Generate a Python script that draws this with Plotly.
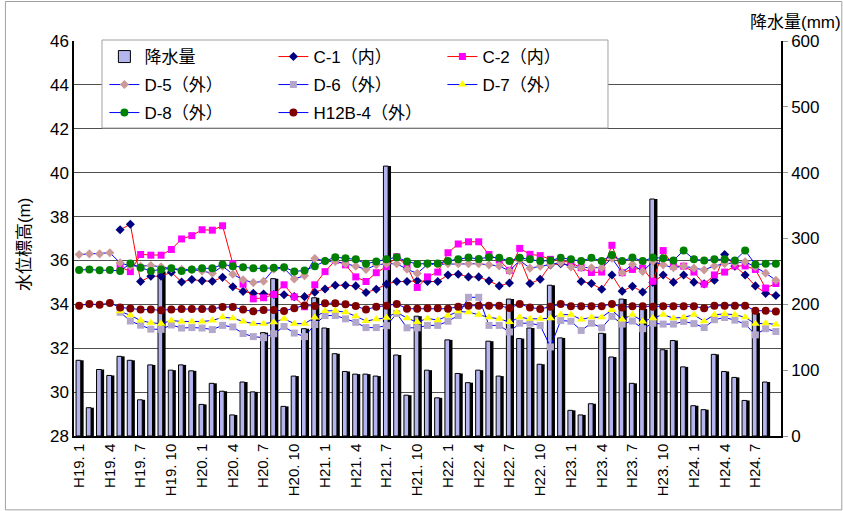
import plotly.graph_objects as go

# months H19.1 .. H24.9
months = ["H%d. %d" % (y, m) for y in range(19, 25) for m in range(1, 13)][:69]
tick_months = months[::3]

# monthly rainfall (mm)
rain = [115, 43, 101, 92, 121, 115, 55, 108, 250, 100, 108, 99,
        48, 80, 68, 32, 82, 67, 157, 239, 45, 91, 163, 210,
        164, 125, 98, 94, 94, 91, 410, 123, 62, 182, 100, 58,
        146, 95, 81, 100, 144, 91, 208, 148, 164, 109, 229, 149,
        39, 32, 49, 156, 120, 208, 80, 193, 360, 131, 145, 105,
        46, 40, 124, 98, 89, 54, 187, 82, None]

# groundwater level (m)
c1 = [None, None, None, None, 37.40, 37.65, 35.04, 35.28, 35.28, 35.46, 35.02, 35.13,
      35.07, 35.05, 35.23, 34.80, 34.59, 34.50, 34.47, 34.45, 34.44, 34.35, 34.35, 34.55,
      34.70, 34.87, 34.87, 34.84, 34.54, 34.69, 34.92, 35.04, 35.04, 35.07, 35.04, 35.04,
      35.34, 35.37, 35.25, 35.25, 35.07, 34.84, 34.97, 36.10, 34.95, 35.14, 35.80, 35.85,
      35.80, 35.04, 34.95, 34.69, 35.34, 34.60, 34.82, 34.56, 35.00, 35.34, 35.01, 35.34,
      35.01, 34.93, 35.10, 36.27, 35.74, 35.34, 34.84, 34.50, 34.40]
c2 = [None, None, None, None, 35.71, 35.49, 36.27, 36.24, 36.24, 36.50, 36.98, 37.13,
      37.40, 37.38, 37.58, 35.85, 34.92, 34.25, 34.30, 34.45, 34.89, 34.34, 33.89, 34.89,
      35.49, 36.00, 35.80, 35.25, 35.04, 35.44, 35.72, 36.17, 35.74, 34.77, 35.25, 35.47,
      36.35, 36.75, 36.85, 36.85, 36.27, 36.02, 35.55, 36.55, 36.28, 36.22, 36.05, 36.00,
      35.89, 35.67, 35.45, 35.47, 36.69, 35.44, 35.59, 35.65, 35.05, 36.45, 35.74, 35.74,
      35.47, 34.92, 35.34, 35.47, 35.75, 35.75, 35.59, 34.74, 34.95]
d5 = [36.27, 36.30, 36.30, 36.35, 35.89, 35.75, 35.74, 35.77, 35.71, 35.62, 35.60, 35.58,
      35.52, 35.42, 35.74, 35.37, 35.12, 34.99, 35.05, 35.60, 35.65, 35.16, 35.30, 36.09,
      35.97, 35.95, 35.85, 35.74, 35.59, 35.80, 35.85, 35.85, 35.60, 35.41, 35.82, 35.82,
      35.85, 35.85, 35.85, 35.85, 35.80, 35.75, 35.52, 36.00, 35.65, 35.74, 35.82, 35.90,
      35.70, 35.67, 35.67, 35.67, 36.10, 35.44, 35.82, 35.50, 35.95, 35.80, 35.67, 35.74,
      35.65, 35.57, 35.75, 35.85, 35.89, 35.94, 35.70, 35.42, 35.10]
d6 = [None, None, None, None, 33.64, 33.24, 33.05, 32.87, 32.86, 33.06, 32.92, 32.94,
      32.92, 32.85, 33.04, 32.97, 32.67, 32.53, 32.48, 32.66, 32.99, 32.69, 32.53, 33.08,
      33.49, 33.49, 33.34, 33.18, 32.94, 32.94, 33.03, 33.58, 32.93, 32.93, 33.04, 33.04,
      33.23, 33.49, 34.32, 34.32, 33.04, 33.04, 32.74, 33.14, 33.14, 33.04, 32.06, 33.26,
      33.23, 32.81, 33.14, 32.93, 33.45, 33.10, 33.24, 32.89, 33.14, 33.10, 33.10, 33.22,
      33.12, 32.94, 33.30, 33.40, 33.28, 33.10, 32.61, 32.89, 32.76]
d7 = [None, None, None, None, 33.68, 33.50, 33.26, 33.16, 33.12, 33.26, 33.22, 33.22,
      33.22, 33.26, 33.41, 33.37, 33.22, 33.12, 33.12, 33.18, 33.34, 33.12, 33.12, 33.40,
      33.70, 33.71, 33.64, 33.46, 33.24, 33.32, 33.39, 33.64, 33.37, 33.19, 33.36, 33.28,
      33.49, 33.68, 33.64, 33.53, 33.41, 33.34, 33.19, 33.41, 33.34, 33.34, 33.37, 33.53,
      33.53, 33.31, 33.41, 33.41, 33.74, 33.31, 33.53, 33.22, 33.37, 33.53, 33.37, 33.41,
      33.52, 33.23, 33.53, 33.56, 33.53, 33.41, 33.11, 33.14, 33.08]
d8 = [35.56, 35.59, 35.55, 35.56, 35.52, 35.86, 35.67, 35.52, 35.59, 35.64, 35.52, 35.59,
      35.64, 35.64, 35.82, 35.74, 35.69, 35.64, 35.64, 35.67, 35.69, 35.50, 35.54, 35.74,
      35.97, 36.15, 36.10, 36.05, 35.85, 35.95, 36.05, 36.15, 35.95, 35.84, 35.86, 35.86,
      35.98, 36.05, 36.13, 36.07, 36.15, 36.12, 35.97, 36.12, 36.05, 35.97, 36.00, 36.12,
      36.05, 35.97, 36.12, 35.97, 36.25, 35.97, 36.13, 35.97, 36.13, 36.10, 36.00, 36.45,
      36.05, 36.00, 36.05, 36.05, 36.00, 36.45, 35.82, 35.85, 35.85]
h12b4 = [33.94, 34.02, 33.98, 34.06, 33.86, 33.81, 33.76, 33.76, 33.73, 33.77, 33.79, 33.79,
         33.79, 33.79, 33.88, 33.88, 33.76, 33.68, 33.74, 33.74, 33.70, 33.82, 33.95, 33.92,
         34.05, 34.05, 34.00, 33.92, 33.76, 33.89, 33.94, 34.02, 33.80, 33.80, 33.82, 33.82,
         33.80, 33.89, 33.94, 33.94, 33.94, 33.94, 33.83, 34.02, 33.86, 33.79, 33.89, 34.02,
         33.91, 33.91, 33.91, 33.91, 34.02, 33.86, 33.91, 33.91, 33.89, 33.91, 33.91, 33.91,
         33.91, 33.82, 33.94, 33.94, 33.94, 33.94, 33.71, 33.71, 33.67]

FONT = "Liberation Sans, Arial, Noto Sans CJK JP, sans-serif"

fig = go.Figure()

# bars (3D look: black shadow behind a lavender bar)
fig.add_trace(go.Bar(x=months, y=rain, width=0.46, offset=-0.02,
                     marker=dict(color="black", line=dict(width=0)),
                     showlegend=False, hoverinfo="skip", yaxis="y"))
fig.add_trace(go.Bar(x=months, y=rain, width=0.46, offset=-0.3, name="降水量",
                     marker=dict(color="#B4B4EE", line=dict(color="black", width=1)),
                     yaxis="y", legend="legend"))

# name, values, marker colour, symbol, size, line colour, legend row
series = [
    ("C-1（内）", c1, "#000080", "diamond", 7, "#FF0000", "legend"),
    ("C-2（内）", c2, "#FF00FF", "square", 7, "#FF0000", "legend"),
    ("D-5（外）", d5, "#CC9999", "diamond", 7, "#0000FF", "legend2"),
    ("D-6（外）", d6, "#B3A8CC", "square", 7, "#0000FF", "legend2"),
    ("D-7（外）", d7, "#FFFF00", "triangle-up", 8, "#0000FF", "legend2"),
    ("D-8（外）", d8, "#008000", "circle", 8, "#0000FF", "legend3"),
    ("H12B-4（外）", h12b4, "#800000", "circle", 8, "#0000FF", "legend3"),
]
for name, vals, mcol, sym, size, lcol, leg in series:
    fig.add_trace(go.Scatter(x=months, y=vals, name=name, mode="lines+markers",
                             line=dict(color=lcol, width=1),
                             marker=dict(color=mcol, symbol=sym, size=size,
                                         line=dict(width=0)),
                             yaxis="y2", legend=leg))

# one legend per row, the box around them is a shape
leg_style = dict(orientation="h", x=0.043, xanchor="left", yanchor="middle",
                 entrywidth=124, entrywidthmode="pixels", traceorder="normal",
                 bgcolor="rgba(0,0,0,0)", borderwidth=0, font=dict(size=17),
                 itemwidth=30)

fig.update_layout(
    width=843, height=511,
    margin=dict(l=74, r=62, t=41, b=75),
    paper_bgcolor="white", plot_bgcolor="white",
    font=dict(family=FONT, size=16, color="black"),
    barmode="overlay",
    showlegend=True,
    xaxis=dict(type="category", range=[-0.5, 68.5], tickvals=tick_months,
               ticktext=tick_months, tickangle=-90, tickfont=dict(size=15),
               showgrid=False, showline=True, linecolor="black", linewidth=1.5,
               ticks=""),
    yaxis=dict(side="right", range=[0, 600], dtick=100, showgrid=False,
               showline=True, linecolor="black", linewidth=1.5,
               ticks="outside", ticklen=5, tickcolor="#999999",
               tickfont=dict(size=17), zeroline=False),
    yaxis2=dict(overlaying="y", side="left", range=[28, 46], dtick=2,
                showgrid=True, gridcolor="#505050", gridwidth=1,
                showline=True, linecolor="black", linewidth=1.5,
                ticks="", tickfont=dict(size=17), zeroline=False),
    legend=dict(leg_style, y=0.9595),
    legend2=dict(leg_style, y=0.8886),
    legend3=dict(leg_style, y=0.8177),
    annotations=[
        dict(text="水位標高(m)", xref="paper", yref="paper", x=-0.086, y=0.485,
             textangle=-90, showarrow=False, font=dict(size=17)),
        dict(text="降水量(mm)", xref="paper", yref="paper", x=1.087, y=1.047,
             xanchor="right", yanchor="middle", showarrow=False, font=dict(size=17)),
    ],
    shapes=[
        dict(type="rect", xref="paper", yref="paper", x0=-0.097, x1=1.086,
             y0=-0.187, y1=1.1, line=dict(color="#A0A0A0", width=1),
             fillcolor="rgba(0,0,0,0)", layer="below"),
        # legend box
        dict(type="rect", xref="paper", yref="paper", x0=0.0396, x1=0.7553,
             y0=0.7797, y1=1.0025, line=dict(color="#A0A0A0", width=1),
             fillcolor="white", layer="above"),
    ],
)

fig.write_html("out.html", config={"displayModeBar": False},
               post_script="document.body.style.margin='0';")
